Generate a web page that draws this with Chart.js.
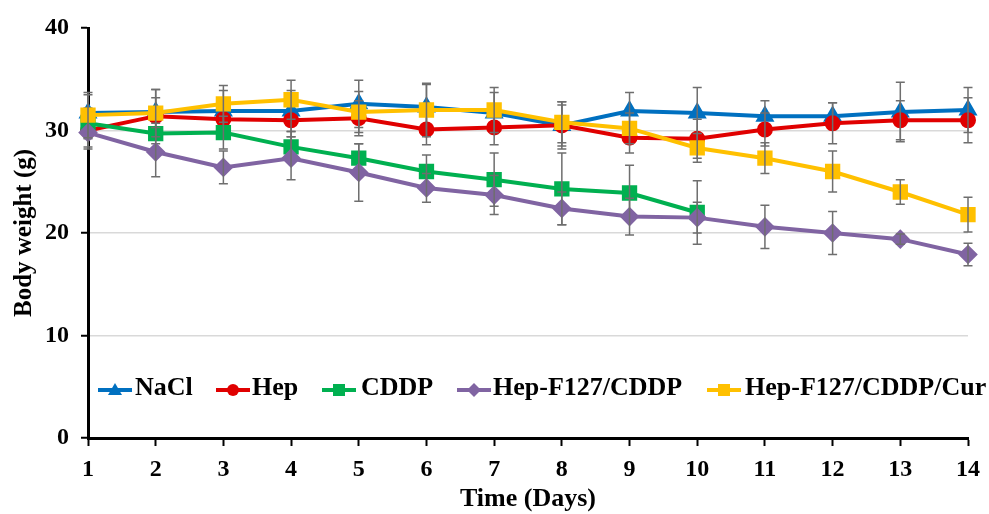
<!DOCTYPE html>
<html>
<head>
<meta charset="utf-8">
<script src="https://cdn.jsdelivr.net/npm/chart.js@4"></script>
<style>
  body { margin:0; background:#fff; }
  .wrap { position:relative; width:989px; height:514px; overflow:hidden; }
  .legend { position:absolute; left:0; top:372px; width:989px; height:30px;
    font-family:"Liberation Serif","Times New Roman",serif; font-weight:bold; font-size:26px; color:#000; white-space:nowrap; }
  .legend .icon { position:absolute; top:5px; display:block; }
  .legend .txt { position:absolute; top:0; line-height:30px; }
</style>
</head>
<body>
<div class="wrap">
  <canvas id="chart" width="989" height="514"></canvas>
  <div class="legend" id="legend"></div>
</div>
<script>
// categories / tick labels
const days = ["1","2","3","4","5","6","7","8","9","10","11","12","13","14"];
const yTicks = [0, 10, 20, 30, 40];

// series values (g)
const nacl     = [31.7, 31.8, 31.9, 31.9, 32.6, 32.3, 31.7, 30.5, 31.9, 31.7, 31.4, 31.4, 31.8, 32.0];
const hep      = [30.0, 31.4, 31.1, 31.0, 31.2, 30.1, 30.3, 30.5, 29.3, 29.2, 30.1, 30.7, 31.0, 31.0];
const cddp     = [30.7, 29.7, 29.8, 28.4, 27.3, 26.0, 25.2, 24.3, 23.9, 22.0, null, null, null, null];
const hepF127  = [29.8, 27.9, 26.4, 27.3, 25.9, 24.4, 23.7, 22.4, 21.6, 21.5, 20.6, 20.0, 19.4, 17.9];
const hepCur   = [31.5, 31.7, 32.6, 33.0, 31.8, 32.0, 32.0, 30.8, 30.2, 28.3, 27.3, 26.0, 24.0, 21.8];

// error bars (SD)
const naclErr    = [1.8, 2.2, 2.0, 2.0, 2.3, 2.2, 2.0, 2.3, 1.8, 2.5, 1.5, 1.3, 2.9, 2.2];
const hepErr     = [1.6, 1.8, 1.5, 1.6, 1.7, 1.5, 1.7, 2.0, 1.5, 1.9, 1.6, 2.0, 1.9, 2.2];
const cddpErr    = [1.5, 1.0, 1.6, 1.5, 1.4, 1.6, 2.6, 3.5, 2.7, 3.1, null, null, null, null];
const hepF127Err = [1.6, 2.4, 1.6, 2.1, 2.8, 1.4, 1.9, 1.6, 1.8, 1.5, 2.1, 2.1, 0.5, 1.1];
const hepCurErr  = [2.2, 2.3, 1.8, 1.9, 2.0, 2.6, 2.2, 2.0, 1.5, 1.4, 1.5, 2.0, 1.2, 1.7];

const FONT = "'Liberation Serif', 'Times New Roman', serif";

function series(label, data, err, color, style, radius, order){
  return { label, data, err, borderColor:color, backgroundColor:color, pointStyle:style,
    pointRadius:radius, pointHoverRadius:radius, pointBorderColor:color, pointBackgroundColor:color,
    borderWidth:4, tension:0, order, spanGaps:false };
}

const datasets = [
  series("NaCl", nacl, naclErr, "#0070C0", "triangle", 7, 5),
  series("Hep", hep, hepErr, "#E00000", "circle", 6, 4),
  series("CDDP", cddp, cddpErr, "#00B050", "rect", 8, 3),
  series("Hep-F127/CDDP", hepF127, hepF127Err, "#8064A2", "rectRot", 7, 2),
  series("Hep-F127/CDDP/Cur", hepCur, hepCurErr, "#FFC000", "rect", 8, 1)
];

// error bars drawn right after each series, like the spreadsheet does
const errorBars = {
  id: "errorBars",
  afterDatasetDraw(chart, args){
    const ds = chart.data.datasets[args.index];
    const y = chart.scales.y, ctx = chart.ctx;
    ctx.save();
    ctx.strokeStyle = "#6e6e6e"; ctx.lineWidth = 1.5;
    args.meta.data.forEach((pt, i) => {
      const v = ds.data[i], e = ds.err[i];
      if (v == null || e == null) return;
      const top = y.getPixelForValue(v + e), bot = y.getPixelForValue(v - e);
      ctx.beginPath();
      ctx.moveTo(pt.x, top); ctx.lineTo(pt.x, bot);
      ctx.moveTo(pt.x - 4.5, top); ctx.lineTo(pt.x + 4.5, top);
      ctx.moveTo(pt.x - 4.5, bot); ctx.lineTo(pt.x + 4.5, bot);
      ctx.stroke();
    });
    ctx.restore();
  }
};

new Chart(document.getElementById("chart"), {
  type: "line",
  data: { labels: days, datasets },
  plugins: [errorBars],
  options: {
    responsive:false, animation:false, devicePixelRatio:1,
    layout: { padding: { top:28, right:17, left:0, bottom:0 } },
    plugins: { legend:{ display:false }, tooltip:{ enabled:false } },
    scales: {
      x: {
        offset:false,
        grid: { drawOnChartArea:false, tickColor:"#000", tickLength:8, tickWidth:2 },
        border: { color:"#000", width:3 },
        ticks: { color:"#000", font:{ family:FONT, weight:"bold", size:24 }, padding:9, maxRotation:0, autoSkip:false },
        title: { display:true, text:"Time (Days)", color:"#000", font:{ family:FONT, weight:"bold", size:26, lineHeight:1 }, padding:{ top:0, bottom:2 } },
        afterFit(s){ s.height = 76; }
      },
      y: {
        min:0, max:40,
        afterBuildTicks(s){ s.ticks = yTicks.map(v => ({ value:v })); },
        grid: { color: c => (c.tick && (c.tick.value === 0 || c.tick.value === 40)) ? "rgba(0,0,0,0)" : "#d9d9d9",
                lineWidth:1.5, tickColor:"#000", tickLength:7, tickWidth:2 },
        border: { color:"#000", width:3 },
        ticks: { color:"#000", font:{ family:FONT, weight:"bold", size:24 }, padding:12 },
        title: { display:true, text:"Body weight (g)", color:"#000", font:{ family:FONT, weight:"bold", size:25 }, padding:{ top:10, bottom:0 } },
        afterFit(s){ s.width = 88; }
      }
    }
  }
});

// legend inside the plot area (icon x, text x)
const legendIconX = [98, 216, 322, 457, 707];
const legendTextX = [135, 252, 361, 493, 745];
const shapes = {
  triangle: c => `<polygon points="17,3 24,15 10,15" fill="${c}"/>`,
  circle:   c => `<circle cx="17" cy="10" r="6" fill="${c}"/>`,
  rect:     c => `<rect x="11" y="4" width="12" height="12" fill="${c}"/>`,
  rectRot:  c => `<polygon points="17,3 24,10 17,17 10,10" fill="${c}"/>`
};
const legend = document.getElementById("legend");
datasets.forEach((ds, i) => {
  const icon = document.createElement("div");
  icon.className = "icon";
  icon.style.left = legendIconX[i] + "px";
  icon.innerHTML = `<svg width="34" height="20"><line x1="0" y1="10" x2="34" y2="10" stroke="${ds.borderColor}" stroke-width="4"/>${shapes[ds.pointStyle](ds.borderColor)}</svg>`;
  const txt = document.createElement("span");
  txt.className = "txt";
  txt.style.left = legendTextX[i] + "px";
  txt.textContent = ds.label;
  legend.appendChild(icon);
  legend.appendChild(txt);
});
</script>
</body>
</html>
